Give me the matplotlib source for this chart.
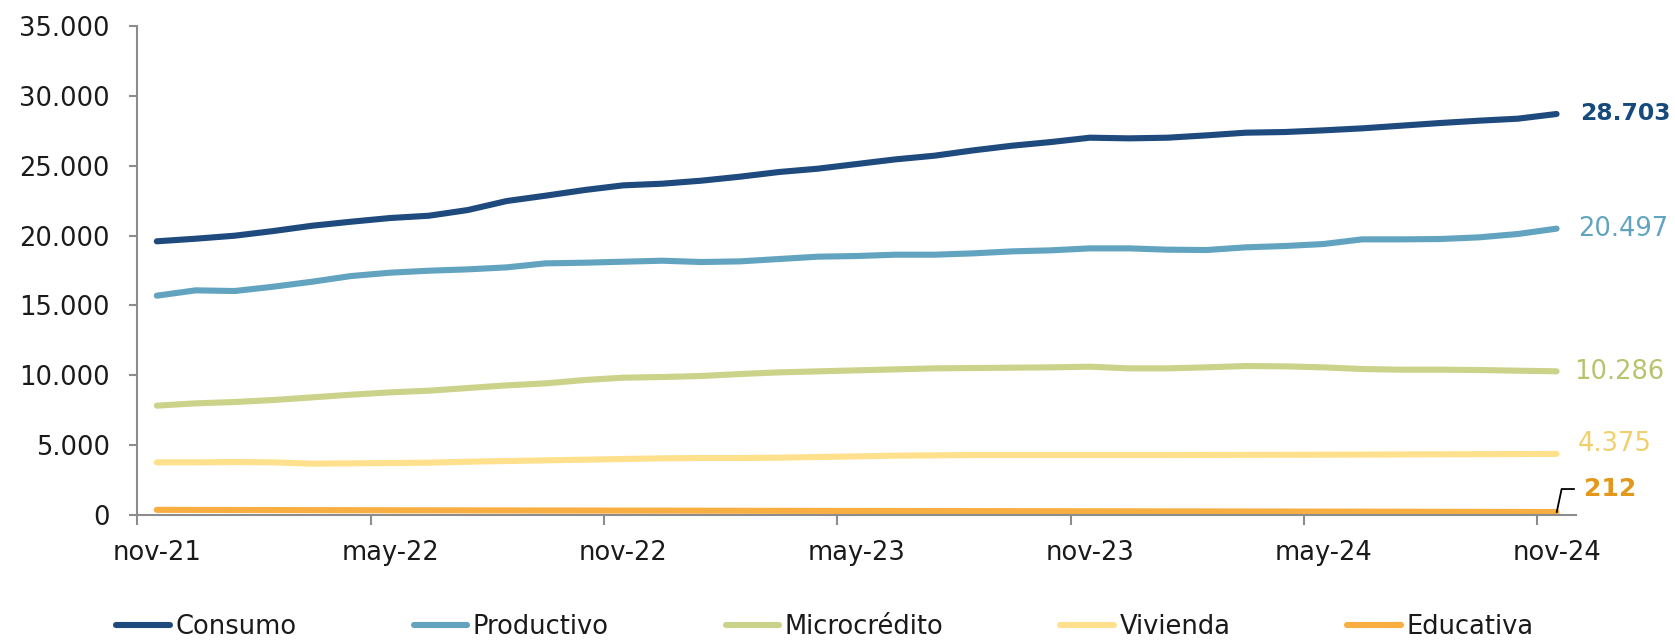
import matplotlib
matplotlib.use("Agg")
import matplotlib.pyplot as plt
import numpy as np

plt.rcParams['font.family'] = ['DejaVu Sans']

months = ["nov-21", "dic-21", "ene-22", "feb-22", "mar-22", "abr-22", "may-22", "jun-22", "jul-22",
          "ago-22", "sep-22", "oct-22", "nov-22", "dic-22", "ene-23", "feb-23", "mar-23", "abr-23",
          "may-23", "jun-23", "jul-23", "ago-23", "sep-23", "oct-23", "nov-23", "dic-23", "ene-24",
          "feb-24", "mar-24", "abr-24", "may-24", "jun-24", "jul-24", "ago-24", "sep-24", "oct-24",
          "nov-24"]

consumo = [19590, 19776, 19990, 20326, 20706, 20993, 21256, 21421, 21829, 22473, 22855, 23260,
           23596, 23713, 23928, 24215, 24549, 24787, 25121, 25455, 25717, 26099, 26433, 26696,
           27006, 26958, 27006, 27173, 27364, 27411, 27531, 27674, 27865, 28055, 28222, 28365,
           28703]
productivo = [15698, 16080, 16032, 16341, 16699, 17105, 17343, 17486, 17582, 17725, 18011, 18058,
              18130, 18201, 18107, 18154, 18322, 18489, 18537, 18632, 18632, 18727, 18870, 18944,
              19085, 19085, 18990, 18966, 19157, 19252, 19395, 19729, 19729, 19753, 19872, 20111,
              20497]
microcredito = [7826, 7992, 8087, 8231, 8421, 8612, 8779, 8898, 9089, 9280, 9423, 9662,
                9829, 9877, 9948, 10091, 10210, 10282, 10354, 10425, 10497, 10521, 10545, 10569,
                10616, 10497, 10497, 10569, 10664, 10640, 10569, 10449, 10402, 10402, 10378, 10330,
                10286]
vivienda = [3770, 3770, 3793, 3770, 3674, 3698, 3722, 3746, 3817, 3865, 3913, 3961,
            4008, 4056, 4080, 4080, 4103, 4151, 4199, 4247, 4270, 4294, 4294, 4294,
            4294, 4294, 4294, 4300, 4305, 4310, 4318, 4325, 4335, 4345, 4355, 4365,
            4375]
educativa = [370, 365, 360, 355, 350, 345, 340, 336, 332, 328, 324, 320,
             316, 312, 308, 304, 300, 296, 292, 288, 284, 280, 276, 272,
             268, 264, 260, 256, 252, 248, 244, 240, 235, 230, 225, 219,
             212]

series_names = ["Consumo", "Productivo", "Microcrédito", "Vivienda", "Educativa"]
series_vals = [consumo, productivo, microcredito, vivienda, educativa]
colors = ["#1F4A7E", "#62A4C0", "#CBD38A", "#FFE08C", "#F9AE42"]
label_colors = ["#164A7C", "#62A4C0", "#B9C26C", "#F2CF6B", "#E3981C"]
end_labels = ["28.703", "20.497", "10.286", "4.375", "212"]

FS = 18.5

fig = plt.figure(figsize=(16.75, 6.42), dpi=100)
ax = fig.add_axes([0.0820, 0.1978, 0.8589, 0.7617])

x = np.arange(len(months))
handles = []
for name, vals, c in zip(series_names, series_vals, colors):
    h, = ax.plot(x, vals, color=c, lw=4.4, solid_capstyle='round', solid_joinstyle='round',
                 label=name)
    handles.append(h)

ax.set_xlim(-0.5, len(months) - 0.5)
ax.set_ylim(0, 35000)

ax.spines['top'].set_visible(False)
ax.spines['right'].set_visible(False)
for s in ['left', 'bottom']:
    ax.spines[s].set_color('#8C8C8C')
    ax.spines[s].set_linewidth(1.5)

yt = np.arange(0, 35001, 5000)
ax.set_yticks(yt)
ax.set_yticklabels(["0" if v == 0 else f"{v:,}".replace(",", ".") for v in yt])
ax.tick_params(axis='y', which='major', length=6, width=1.5, color='#8C8C8C',
               labelsize=FS, pad=14, labelcolor='#1A1A1A')

# tick marks at category boundaries, labels at category centres
lab_idx = list(range(0, len(months), 6))
ax.set_xticks([i - 0.5 for i in lab_idx])
ax.set_xticklabels([])
ax.tick_params(axis='x', which='major', length=7, width=1.5, color='#8C8C8C')
ax.set_xticks(lab_idx, minor=True)
ax.set_xticklabels([months[i] for i in lab_idx], minor=True)
ax.tick_params(axis='x', which='minor', length=0, labelsize=FS, pad=18, labelcolor='#1A1A1A')

# end labels
last = len(months) - 1
offsets = [0, 0, -50, 700, 1650]
xt = [36.6, 36.55, 36.45, 36.55, 36.7]
weights = ['bold', 'normal', 'normal', 'normal', 'bold']
sizes = [16.9, FS, FS, FS, 18]
for vals, lc, txt, off, xx, w, fs in zip(series_vals, label_colors, end_labels, offsets, xt,
                                         weights, sizes):
    ax.text(xx, vals[last] + off, txt, color=lc, fontsize=fs, fontweight=w,
            ha='left', va='center', clip_on=False)

# leader line for Educativa
ax.plot([last, last + 0.13, last + 0.47], [educativa[last] - 60, 1860, 1860],
        color='black', lw=1.3, clip_on=False, solid_capstyle='butt')

fig.legend(handles=handles, labels=series_names, loc='center', bbox_to_anchor=(0.4925, 0.024),
           ncol=5, frameon=False, fontsize=FS, handlelength=2.1, handletextpad=0.2,
           columnspacing=4.55, labelcolor='#1A1A1A')

fig.savefig("out.png", dpi=100)
